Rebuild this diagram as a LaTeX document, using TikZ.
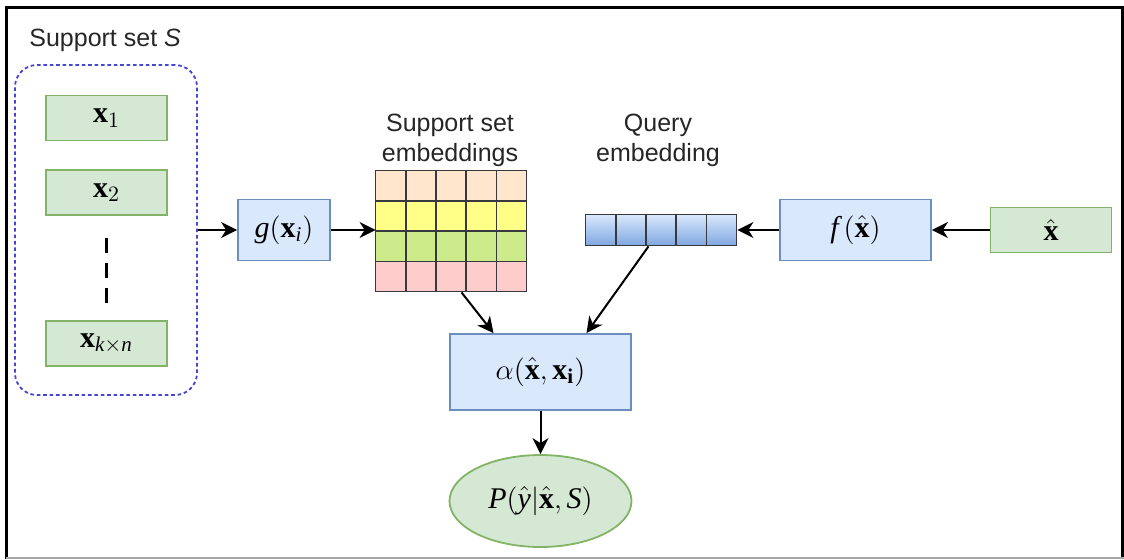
\documentclass[tikz,border=0pt]{standalone}
\usepackage{fontspec}
\setmainfont{Liberation Sans}
\setmathrm{Liberation Serif}
\setboldmathrm{Liberation Serif}
\usepackage{tikz}
\usetikzlibrary{calc}
\usetikzlibrary{arrows.meta}
\usetikzlibrary{shapes.geometric,positioning}
\definecolor{lvfill}{HTML}{D5E8D4}
\definecolor{lvline}{HTML}{82B366}
\definecolor{lanfill}{HTML}{DAE8FC}
\definecolor{lanline}{HTML}{6C8EBF}
\definecolor{landeep}{HTML}{7EA6E0}
\definecolor{dotblue}{RGB}{70,70,210}
\definecolor{rowA}{HTML}{FFE6CC}
\definecolor{rowB}{HTML}{FFFF88}
\definecolor{rowC}{HTML}{CDEB8B}
\definecolor{rowD}{HTML}{FFCCCC}
\definecolor{gridline}{HTML}{36393D}
\tikzset{
    blackarrow/.style={
        line width=1pt,
        black,
        -{Stealth[length=8pt, width=8pt, inset=2.5pt]}
    },
    % 绿色输入框
    greenbox/.style={
        draw=lvline, fill=lvfill, line width=0.9pt,
        minimum width=60.5pt, minimum height=22.5pt, inner sep=0pt,
        font=\fontsize{15}{18}\selectfont
    },
    % 蓝色函数框
    bluebox/.style={
        draw=lanline, fill=lanfill, line width=0.9pt, inner sep=0pt,
        font=\fontsize{15}{18}\selectfont
    },
    cell/.style={draw=gridline, line width=0.8pt},
    labeltext/.style={font=\fontsize{12.5}{15}\selectfont, text=black!85, align=center, inner sep=0pt}
}

\begin{document}
\begin{tikzpicture}[x=0.5pt,y=-0.5pt]
    \useasboundingbox (0,0) rectangle (1124,559);
    % ===================== 外框 =====================
    \draw[line width=1.5pt] (6,559) -- (6,7) -- (1122.5,7) -- (1122.5,559);
    \draw[gray!70, line width=0.6pt] (6,558) -- (1124,558);

    % ===================== 支撑集 S =====================
    \node[labeltext, anchor=west] (supplbl) at (29,40) {Support set \textit{S}};
    \node[draw=dotblue, line width=0.9pt, dash pattern=on 1.8pt off 1.4pt, rounded corners=11pt,
          minimum width=91pt, minimum height=165pt] (supp) at (106,230) {};

    \node[greenbox] (x1) at (106.5,118) {$\mathbf{x}_1$};
    \node[greenbox] (x2) at (106.5,192.5) {$\mathbf{x}_2$};
    \node[greenbox] (xkn) at (106.5,343.5) {$\mathbf{x}_{\mathit{k}\times \mathit{n}}$};
    % 省略号虚线
    \draw[line width=1.5pt, dash pattern=on 7.5pt off 5pt] ([yshift=-11pt]x2.south) -- ([yshift=8pt]xkn.north);

    % ===================== 嵌入函数 =====================
    \node[bluebox, minimum width=46pt, minimum height=30.5pt] (g) at (284,230) {$\mathit{g}(\mathbf{x}_{\mathit{i}})$};
    \node[bluebox, minimum width=75.5pt, minimum height=30.5pt] (f) at (855.5,230) {$\mathit{f}\,(\hat{\mathbf{x}})$};
    \node[greenbox] (xhat) at (1051,230) {$\hat{\mathbf{x}}$};

    % ===================== 支撑集嵌入矩阵 =====================
    \node[minimum width=75.5pt, minimum height=60.5pt, inner sep=0pt] (emb) at (451.5,231.5) {};
    \foreach \r/\c in {0/rowA,1/rowB,2/rowC,3/rowD}{
        \foreach \k in {0,...,4}{
            \draw[cell, fill=\c] ($(emb.north west)+(\k*30.2,\r*30.25)$) rectangle +(30.2,30.25);
        }
    }
    \node[labeltext] (emblbl) at (450,140) {Support set\\embeddings};

    % ===================== 查询嵌入 =====================
    \node[minimum width=75.5pt, minimum height=15.5pt, inner sep=0pt] (qry) at (661.5,230.5) {};
    \foreach \k in {0,...,4}{
        \draw[cell, top color=lanfill, bottom color=landeep] ($(qry.north west)+(\k*30.2,0)$) rectangle +(30.2,31);
    }
    \node[labeltext] (qrylbl) at (658,140) {Query\\embedding};

    % ===================== 注意力与输出 =====================
    \node[bluebox, minimum width=90.5pt, minimum height=38pt] (alpha) at (540.5,372) {$\alpha(\hat{\mathbf{x}},\mathbf{x}_{\mathbf{i}})$};
    \node[ellipse, draw=lvline, fill=lvfill, line width=0.9pt, inner sep=0pt,
          minimum width=91pt, minimum height=46pt, font=\fontsize{15}{18}\selectfont] (P) at (540.5,501) {$\mathit{P}(\hat{\mathit{y}}|\hat{\mathbf{x}},\mathit{S})$};

    % ===================== 箭头 =====================
    \draw[blackarrow] (supp.east) -- (g.west);
    \draw[blackarrow] (g.east) -- (g.east -| emb.west);
    \draw[blackarrow] (xhat.west) -- (f.east);
    \draw[blackarrow] (f.west) -- (f.west -| qry.east);
    \draw[blackarrow] ([xshift=5pt]emb.south) -- ([xshift=-23.5pt]alpha.north);
    \draw[blackarrow] ([xshift=-6.5pt]qry.south) -- ([xshift=23pt]alpha.north);
    \draw[blackarrow] (alpha.south) -- (P.north);
\end{tikzpicture}
\end{document}
